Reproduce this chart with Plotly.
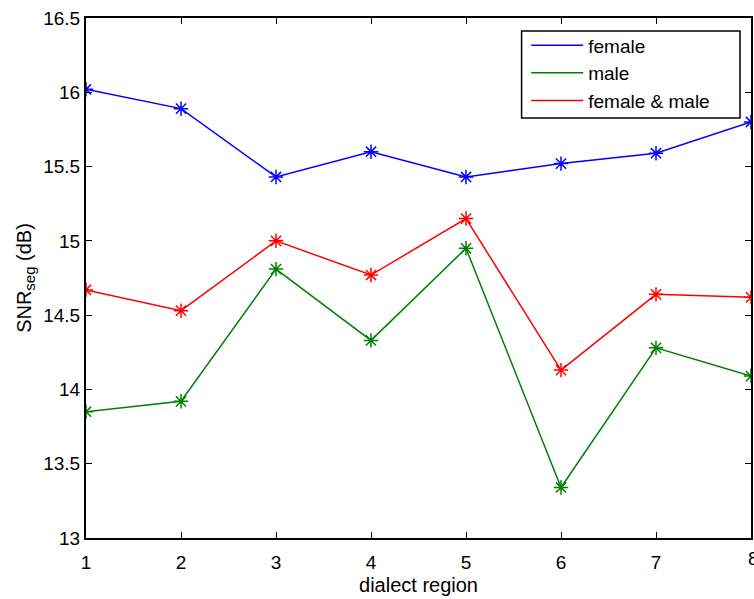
import plotly.graph_objects as go

regions = [1, 2, 3, 4, 5, 6, 7, 8]
female = [16.02, 15.89, 15.43, 15.60, 15.43, 15.52, 15.59, 15.80]
male = [13.85, 13.92, 14.81, 14.33, 14.95, 13.34, 14.28, 14.09]
both = [14.67, 14.53, 15.00, 14.77, 15.15, 14.13, 14.64, 14.62]
names = ["female", "male", "female & male"]
colors = ["#0000FF", "#008000", "#FF0000"]
yticks = [13, 13.5, 14, 14.5, 15, 15.5, 16, 16.5]

FONT = "Liberation Sans, Arial"

fig = go.Figure()
for name, vals, c in zip(names, [female, male, both], colors):
    fig.add_trace(go.Scatter(
        x=regions, y=vals, name=name, mode="lines",
        line=dict(color=c, width=1.5), legendgroup=name,
    ))
    fig.add_trace(go.Scatter(
        x=regions, y=vals, name=name, mode="markers", showlegend=False,
        legendgroup=name,
        marker=dict(symbol="asterisk-open", size=12, color=c, line=dict(color=c, width=1.5)),
    ))

axis_common = dict(showline=True, linecolor="black", linewidth=2, mirror="allticks",
                   ticks="inside", ticklen=6, tickcolor="black", tickwidth=1,
                   showgrid=False, zeroline=False,
                   tickfont=dict(family=FONT, size=19, color="black"))

fig.update_layout(
    width=754, height=599,
    margin=dict(l=86, r=1, t=18, b=61),
    paper_bgcolor="white", plot_bgcolor="white",
    font=dict(family=FONT, color="black"),
    xaxis=dict(range=[1, 8], tickvals=regions[:-1], ticktext=[str(r) for r in regions[:-1]],
               ticklabelstandoff=6,
               title=dict(text="dialect region", font=dict(size=20), standoff=6),
               **axis_common),
    yaxis=dict(range=[13, 16.5], tickvals=yticks,
               ticktext=[f"{v:g}" for v in yticks],
               title=dict(text="SNR<sub><span style='font-size:15px'>seg</span></sub> (dB)",
                          font=dict(size=20), standoff=6),
               **axis_common),
    legend=dict(x=0.662, y=0.984, xanchor="left", yanchor="top",
                borderwidth=0, bgcolor="rgba(0,0,0,0)",
                font=dict(family=FONT, size=19, color="black"),
                tracegroupgap=0, itemwidth=52),
    showlegend=True,
)

# legend frame
fig.add_shape(type="rect", xref="paper", yref="paper",
              x0=0.655, x1=0.9835, y0=0.8077, y1=0.975,
              line=dict(color="black", width=1.5), fillcolor="white", layer="above")

# last x tick label, partly cut by the figure edge as in the reference
fig.add_annotation(x=regions[-1], y=0, xref="x", yref="paper", text=str(regions[-1]),
                   showarrow=False, yanchor="top", yshift=-8, xshift=2,
                   font=dict(family=FONT, size=19, color="black"))

fig.write_html("out.html")
